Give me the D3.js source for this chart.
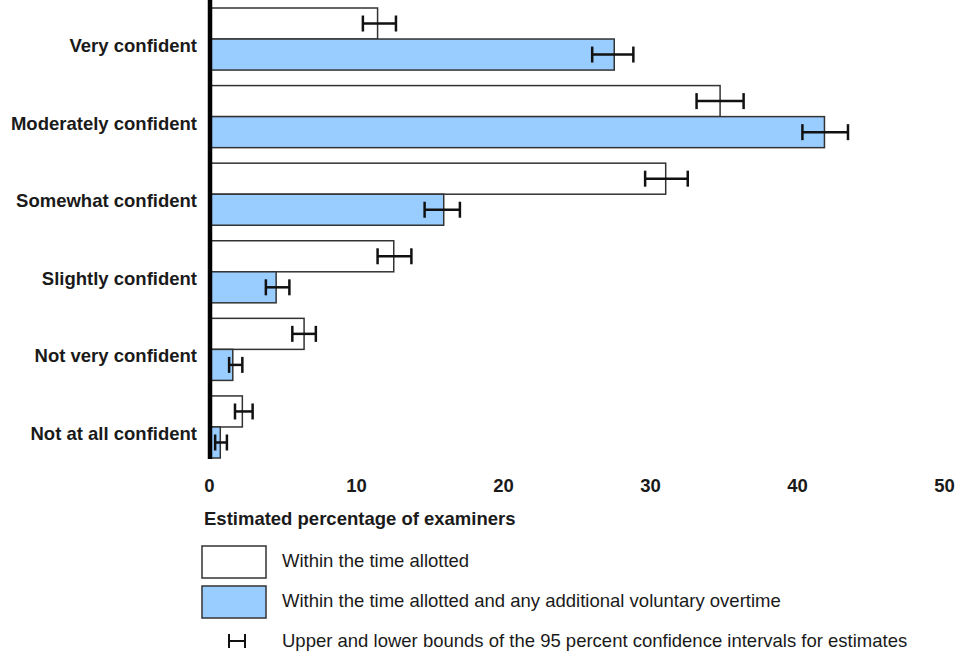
<!DOCTYPE html>
<html>
<head>
<meta charset="utf-8">
<script src="https://cdn.jsdelivr.net/npm/d3@7"></script>
<style>
  body { margin: 0; background: #fff; }
  svg { font-family: "Liberation Sans", Arial, sans-serif; }
</style>
</head>
<body>
<div class="chart"></div>
<script>
var categories = ["Very confident", "Moderately confident", "Somewhat confident",
                  "Slightly confident", "Not very confident", "Not at all confident"];
var seriesKeys = ["Within the time allotted",
                  "Within the time allotted and any additional voluntary overtime"];
var withinTime = [11.4, 34.7, 31.0, 12.5, 6.4, 2.2];
var withinTimeLow = [10.4, 33.1, 29.6, 11.4, 5.6, 1.7];
var withinTimeHigh = [12.65, 36.3, 32.5, 13.7, 7.2, 2.9];
var withOvertime = [27.5, 41.8, 15.9, 4.5, 1.55, 0.7];
var withOvertimeLow = [26.0, 40.3, 14.6, 3.8, 1.3, 0.35];
var withOvertimeHigh = [28.8, 43.4, 17.0, 5.4, 2.2, 1.15];
var xTicks = [0, 10, 20, 30, 40, 50];
var ciLabel = "Upper and lower bounds of the 95 percent confidence intervals for estimates";

var svg = d3.select(".chart").append("svg").attr("width", 972).attr("height", 653);

var xScale = d3.scaleLinear().domain([0, 50]).range([210, 945]);
var yScale = d3.scaleBand().domain(categories).range([8, 458]).paddingInner(0.2).paddingOuter(0);
var subScale = d3.scaleBand().domain([0, 1]).range([0, yScale.bandwidth()]);
var colors = ["#ffffff", "#99ccff"];
var fontSize = 18.5;

// flatten to rows
var rows = [];
categories.forEach(function(c, i) {
    rows.push({cat: c, s: 0, v: withinTime[i], lo: withinTimeLow[i], hi: withinTimeHigh[i]});
    rows.push({cat: c, s: 1, v: withOvertime[i], lo: withOvertimeLow[i], hi: withOvertimeHigh[i]});
});

svg.append("g").selectAll("rect")
    .data(rows)
    .enter().append("rect")
    .attr("x", xScale(0))
    .attr("y", function(d) { return yScale(d.cat) + subScale(d.s); })
    .attr("width", function(d) { return xScale(d.v) - xScale(0); })
    .attr("height", subScale.bandwidth())
    .attr("fill", function(d) { return colors[d.s]; })
    .attr("stroke", "#333")
    .attr("stroke-width", 1.5);

// error bars
var capH = 16;
var err = svg.append("g").attr("stroke", "#111").attr("stroke-width", 2.5)
    .selectAll("g").data(rows).enter().append("g")
    .attr("transform", function(d) {
        return "translate(0," + (yScale(d.cat) + subScale(d.s) + subScale.bandwidth() / 2) + ")";
    });
err.append("line")
    .attr("x1", function(d) { return xScale(d.lo); })
    .attr("x2", function(d) { return xScale(d.hi); })
    .attr("y1", 0).attr("y2", 0);
err.append("line")
    .attr("x1", function(d) { return xScale(d.lo); })
    .attr("x2", function(d) { return xScale(d.lo); })
    .attr("y1", -capH / 2).attr("y2", capH / 2);
err.append("line")
    .attr("x1", function(d) { return xScale(d.hi); })
    .attr("x2", function(d) { return xScale(d.hi); })
    .attr("y1", -capH / 2).attr("y2", capH / 2);

// thick y axis line
svg.append("line")
    .attr("x1", xScale(0)).attr("x2", xScale(0))
    .attr("y1", 0).attr("y2", 459)
    .attr("stroke", "#000").attr("stroke-width", 4.5);

// category labels
svg.append("g").selectAll("text")
    .data(categories)
    .enter().append("text")
    .attr("x", 197)
    .attr("y", function(d) { return yScale(d) + yScale.bandwidth() / 2 + 13; })
    .attr("text-anchor", "end")
    .attr("font-size", fontSize)
    .attr("font-weight", "bold")
    .attr("fill", "#1a1a1a")
    .text(function(d) { return d; });

// x axis tick labels
var xAxis = svg.append("g")
    .attr("transform", "translate(-1,0)")
    .call(d3.axisBottom(xScale).tickValues(xTicks).tickSize(0));
xAxis.select(".domain").remove();
xAxis.selectAll("text")
    .attr("y", 492)
    .attr("dy", 0)
    .attr("font-size", fontSize)
    .attr("font-weight", "bold")
    .attr("fill", "#1a1a1a")
    .attr("font-family", "Liberation Sans, Arial, sans-serif");

svg.append("text")
    .attr("x", 204).attr("y", 525)
    .attr("font-size", fontSize).attr("font-weight", "bold").attr("fill", "#1a1a1a")
    .text("Estimated percentage of examiners");

// legend
var legend = svg.append("g").selectAll("g")
    .data(seriesKeys)
    .enter().append("g")
    .attr("transform", function(d, i) { return "translate(202," + (546 + i * 40) + ")"; });
legend.append("rect")
    .attr("width", 64).attr("height", 32)
    .attr("fill", function(d, i) { return colors[i]; })
    .attr("stroke", "#333").attr("stroke-width", 1.5);
legend.append("text")
    .attr("x", 80).attr("y", 21)
    .attr("font-size", fontSize).attr("fill", "#1a1a1a")
    .text(function(d) { return d; });

var ci = svg.append("g").attr("transform", "translate(237,641)")
    .attr("stroke", "#111").attr("stroke-width", 2);
ci.append("line").attr("x1", -8).attr("x2", 8).attr("y1", 0).attr("y2", 0);
ci.append("line").attr("x1", -8).attr("x2", -8).attr("y1", -7).attr("y2", 7);
ci.append("line").attr("x1", 8).attr("x2", 8).attr("y1", -7).attr("y2", 7);
svg.append("text")
    .attr("x", 282).attr("y", 647)
    .attr("font-size", fontSize).attr("fill", "#1a1a1a")
    .text(ciLabel);
</script>
</body>
</html>
